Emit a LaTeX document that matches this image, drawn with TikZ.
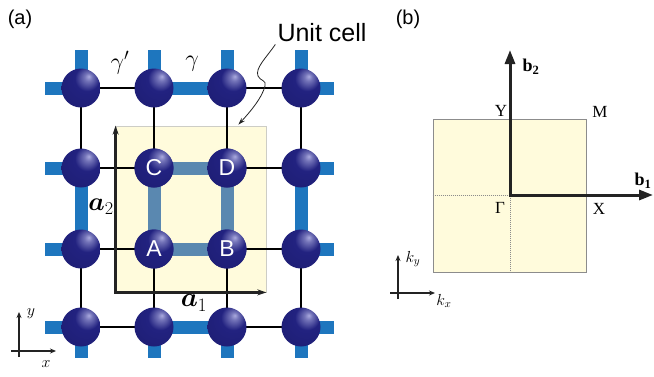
\RequirePackage{fix-cm}
\documentclass[tikz,border=0pt]{standalone}
\usepackage[no-math]{fontspec}
\usepackage{bm}
\newfontfamily\lsans{Liberation Sans}
\newfontfamily\lserif{Liberation Serif}
\usetikzlibrary{arrows.meta}
\definecolor{bondblue}{RGB}{30,118,190}
\definecolor{innerblue}{RGB}{90,136,176}
\definecolor{cellyellow}{RGB}{255,251,220}
\definecolor{cellborder}{RGB}{205,205,198}
\definecolor{bzborder}{RGB}{140,140,140}
\definecolor{atomhi}{RGB}{170,170,222}
\definecolor{atommid}{RGB}{34,34,128}
\definecolor{atomdark}{RGB}{14,14,70}
\definecolor{darkline}{RGB}{35,35,35}
\pgfdeclareradialshading{atomshade}{\pgfpoint{10bp}{15bp}}{color(0bp)=(atomhi); color(5bp)=(atomhi!60!atommid); color(16bp)=(atommid); color(45bp)=(atommid!75!atomdark); color(62bp)=(atomdark); color(80bp)=(atomdark)}
\begin{document}
\begin{tikzpicture}[x=1pt,y=-1pt,
  bluebond/.style={line width=13pt, draw=bondblue},
  innerbond/.style={line width=13pt, draw=innerblue},
  blackbond/.style={line width=1.6pt, draw=black},
  atom/.style={circle, minimum size=39pt, inner sep=0pt, shade, shading=atomshade, text=white, font=\lsans\fontsize{23}{23}\selectfont},
  cellbox/.style={draw=cellborder, fill=cellyellow, line width=0.8pt, inner sep=0pt},
  bzbox/.style={draw=bzborder, fill=cellyellow, line width=0.9pt, inner sep=0pt},
  vecarrow/.style={line width=2.4pt, draw=darkline, {Stealth[length=9pt,width=6pt]}-{Stealth[length=9pt,width=6pt]}},
  bigarrow/.style={line width=3pt, draw=darkline, {Triangle[length=14pt,width=10pt]}-{Triangle[length=14pt,width=10pt]}},
  smallarrow/.style={line width=1.3pt, draw=darkline, -{Stealth[length=6pt,width=5pt]}},
  dotline/.style={densely dotted, draw=bzborder, line width=1pt},
  panellabel/.style={font=\lsans\fontsize{20}{20}\selectfont, inner sep=0pt},
  bzlabel/.style={font=\lserif\fontsize{17}{17}\selectfont, inner sep=0pt},
  mathlabel/.style={inner sep=0pt}
]
\useasboundingbox (0,0) rectangle (654,376);

% ---------- panel (a) ----------
\node[panellabel] (pa) at (20,19) {(a)};

\foreach \c/\x in {1/81,2/154,3/227,4/301}{
  \foreach \r/\y in {1/88,2/168,3/249,4/327}{
    \coordinate (p\c\r) at (\x,\y);
  }
  \coordinate (t\c) at (\x,50);
  \coordinate (b\c) at (\x,358);
}
\foreach \r/\y in {1/88,2/168,3/249,4/327}{
  \coordinate (l\r) at (45,\y);
  \coordinate (r\r) at (334,\y);
}

% unit cell
\node[cellbox, minimum width=150pt, minimum height=166pt] (cell) at (191,209) {};

% bonds
\foreach \r in {1,2,3,4}{
  \draw[bluebond] (l\r) -- (p1\r);
  \draw[bluebond] (p4\r) -- (r\r);
}
\foreach \c in {1,2,3,4}{
  \draw[bluebond] (t\c) -- (p\c1);
  \draw[bluebond] (p\c4) -- (b\c);
}
\draw[bluebond] (p21) -- (p31);
\draw[bluebond] (p24) -- (p34);
\draw[bluebond] (p12) -- (p13);
\draw[bluebond] (p42) -- (p43);
\draw[innerbond] (p22) -- (p32);
\draw[innerbond] (p23) -- (p33);
\draw[innerbond] (p22) -- (p23);
\draw[innerbond] (p32) -- (p33);
\foreach \r in {1,2,3,4}{
  \draw[blackbond] (p1\r) -- (p2\r);
  \draw[blackbond] (p3\r) -- (p4\r);
}
\foreach \c in {1,2,3,4}{
  \draw[blackbond] (p\c1) -- (p\c2);
  \draw[blackbond] (p\c3) -- (p\c4);
}

% lattice vectors
\draw[vecarrow] (cell.north west) -- (cell.south west) -- (cell.south east);
\node[mathlabel, font=\fontsize{26}{26}\selectfont] (la2) at (101,207) {$\bm{a}_2$};
\node[mathlabel, font=\fontsize{27}{27}\selectfont] (la1) at (194,303) {$\bm{a}_1$};

% atoms
\foreach \c in {1,2,3,4}{
  \foreach \r in {1,2,3,4}{
    \node[atom] (n\c\r) at (p\c\r) {};
  }
}
\node[atom] (nC) at (p22) {C};
\node[atom] (nD) at (p32) {D};
\node[atom] (nA) at (p23) {A};
\node[atom] (nB) at (p33) {B};

% hopping labels
\node[mathlabel, font=\fontsize{24}{24}\selectfont] (gp) at (120,63) {$\gamma'$};
\node[mathlabel, font=\fontsize{24}{24}\selectfont] (g) at (192,64) {$\gamma$};

% unit cell label and arrow
\node[font=\lsans\fontsize{25}{25}\selectfont, anchor=base, inner sep=0pt] (uc) at (322,41) {Unit cell};
\coordinate (ucs) at ([xshift=-2pt,yshift=-3pt]uc.south west);
\coordinate (uce) at ([xshift=-28pt,yshift=1pt]cell.north east);
\draw[line width=0.8pt, darkline, -{Stealth[length=7pt,width=4.5pt]}]
  (ucs) .. controls (266,58) and (255,68) .. (258,76)
  .. controls (260,81) and (267,80) .. (265,86)
  .. controls (262,98) and (250,112) .. (uce);

% small axes
\coordinate (ya0) at (19,357);
\coordinate (ya1) at (19,312);
\coordinate (xa0) at (11,351);
\coordinate (xa1) at (56,351);
\draw[smallarrow] (ya0) -- (ya1);
\draw[smallarrow] (xa0) -- (xa1);
\node[mathlabel, font=\fontsize{16}{16}\selectfont] (ly) at (31,314) {$y$};
\node[mathlabel, font=\fontsize{16}{16}\selectfont] (lx) at (46,364) {$x$};

% ---------- panel (b) ----------
\node[panellabel] (pb) at (408,19) {(b)};
\node[bzbox, minimum width=153pt, minimum height=153pt] (bz) at (509.5,195.5) {};
\coordinate (G) at (510,195);
\draw[dotline] (bz.west |- G) -- (G) -- (G |- bz.south);
\coordinate (b2e) at (510,50);
\coordinate (b1e) at (653,195);
\draw[bigarrow] (b2e) -- (G) -- (b1e);

\node[bzlabel] (lY) at (501,111) {Y};
\node[bzlabel] (lM) at (600,112) {M};
\node[bzlabel] (lG) at (500,208) {Γ};
\node[bzlabel] (lX) at (599,209) {X};
\node[bzlabel, font=\lserif\bfseries\fontsize{18}{18}\selectfont] (lb2) at (531,67) {b\textsubscript{2}};
\node[bzlabel, font=\lserif\bfseries\fontsize{18}{18}\selectfont] (lb1) at (643,181) {b\textsubscript{1}};

\coordinate (ky0) at (398,299);
\coordinate (ky1) at (398,255);
\coordinate (kx0) at (390,293);
\coordinate (kx1) at (435,293);
\draw[smallarrow] (ky0) -- (ky1);
\draw[smallarrow] (kx0) -- (kx1);
\node[mathlabel, font=\fontsize{16}{16}\selectfont] (lky) at (413,259) {$k_y$};
\node[mathlabel, font=\fontsize{16}{16}\selectfont] (lkx) at (444,301) {$k_x$};
\end{tikzpicture}
\end{document}
